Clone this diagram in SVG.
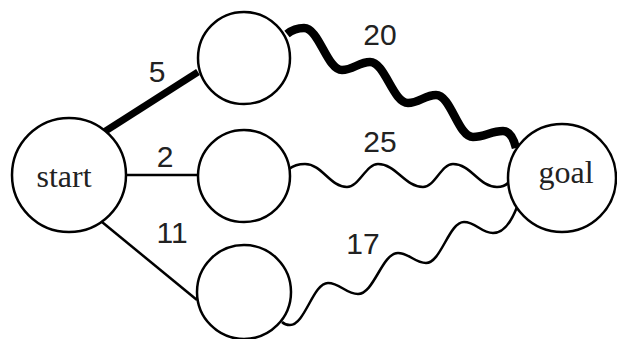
<svg xmlns="http://www.w3.org/2000/svg" width="617" height="339" viewBox="0 0 617 339">
<style>
.node{fill:#fff;stroke:#000;stroke-width:2.5}
.edge{fill:none;stroke:#000;stroke-width:2.5}
.thick{fill:none;stroke:#000;stroke-width:7}
.wthick{fill:none;stroke:#000;stroke-width:8.5}
.nlabel{font-family:"Liberation Serif",serif;font-size:32px;fill:#222;text-anchor:middle}
.elabel{font-family:"Liberation Sans",Arial,sans-serif;font-size:30px;fill:#222;text-anchor:middle}
</style>
<rect width="617" height="339" fill="#fff"/>
<g id="connectors">
<line class="thick" x1="104" y1="132" x2="198" y2="72"/>
<line class="edge" x1="126" y1="175" x2="198" y2="175"/>
<line class="edge" x1="102" y1="222" x2="197" y2="300"/>
<path class="wthick" d="M287,34 C292,30 298,28 304,28 C319,28 327,70 342,70 C353,70 359,62 370,62 C385,62 393,103 408,103 C419,103 425,95 436,95 C451,95 458,137 473,137 C485,137 491,131 503,131 C510,131 514,140 516,148"/>
<path class="edge" d="M289,169 C294,165 299,164 305,164 C322,164 330,187 347,187 C359,187 366,164 378,164 C396,164 405,187 423,187 C435,187 441,164 453,164 C471,164 479,187 497,187 C502,187 506,185 508,183"/>
<path class="edge" d="M282,322 C284,324 287,325 290,325 C305,325 313,283 328,283 C340,283 346,294 358,294 C374,294 382,253 398,253 C409,253 415,263 426,263 C441,263 449,222 464,222 C476,222 481,233 493,233 C505,233 512,220 517,207"/>
<text class="elabel" x="157" y="82">5</text>
<text class="elabel" x="165" y="167">2</text>
<text class="elabel" x="172" y="243">11</text>
<text class="elabel" x="380" y="45">20</text>
<text class="elabel" x="380" y="152">25</text>
<text class="elabel" x="363" y="254">17</text>
</g>
<g id="start"><circle class="node" cx="69" cy="175" r="57"/><text class="nlabel" x="64" y="187">start</text></g>
<g id="top"><circle class="node" cx="244" cy="58" r="46"/></g>
<g id="middle"><circle class="node" cx="244" cy="176" r="46"/></g>
<g id="bottom"><circle class="node" cx="244" cy="292" r="47"/></g>
<g id="goal"><circle class="node" cx="562" cy="178" r="54"/><text class="nlabel" x="566" y="183">goal</text></g>
</svg>
